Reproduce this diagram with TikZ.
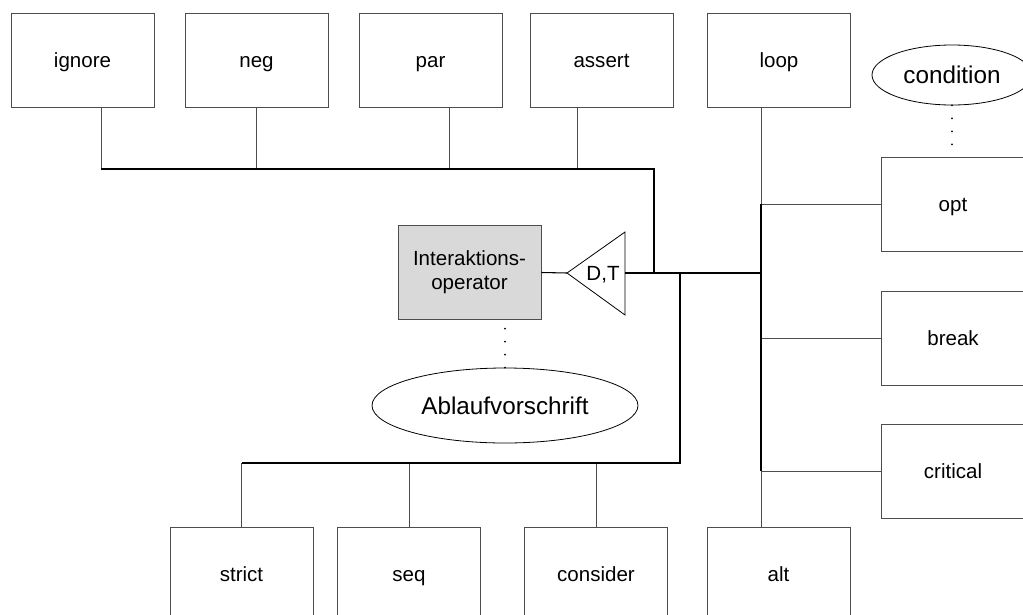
\documentclass[tikz,border=0pt]{standalone}
\usepackage{fontspec}
\setmainfont{Liberation Sans}
\usetikzlibrary{calc,shapes.geometric}
\definecolor{opgray}{HTML}{D9D9D9}
\definecolor{linegray}{HTML}{4D4D4D}

\begin{document}
\begin{tikzpicture}[x=0.75pt, y=-0.75pt,
    frame/.style={draw=linegray, line width=0.6pt, inner sep=0pt,
      minimum width=107.25pt, minimum height=70.5pt,
      font=\fontsize{15.4}{18}\selectfont},
    opbox/.style={frame, text height=12.5pt, text depth=1pt},
    elli/.style={draw=black, ellipse, line width=0.6pt, inner sep=0pt,
      font=\fontsize{18.2}{22}\selectfont},
    link/.style={draw=linegray, line width=0.6pt},
    bus/.style={draw=black, line width=1.1pt},
    dots/.style={draw=black, line width=1.4pt, line cap=round,
      dash pattern=on 0pt off 9.75pt}]
  \useasboundingbox (0,0) rectangle (1023,614);

  % upper row of operators
  \node[opbox] (ignore) at (82.5,60)  {ignore};
  \node[opbox] (neg)    at (256.5,60) {neg};
  \node[opbox] (par)    at (430.5,60) {par};
  \node[opbox] (assert) at (601.5,60) {assert};
  \node[opbox] (loop)   at (779,60)   {loop};

  % right column
  \node[opbox] (opt)      at (953,204) {opt};
  \node[opbox] (break)    at (953,338) {break};
  \node[opbox] (critical) at (953,471) {critical};

  % lower row
  \node[opbox] (strict)   at (241.5,574) {strict};
  \node[opbox] (seq)      at (409,574)   {seq};
  \node[opbox] (consider) at (596,574)   {consider};
  \node[opbox] (alt)      at (778.5,574) {alt};

  % the operator itself, its decomposition triangle and the two ellipses
  \node[frame, fill=opgray, align=center] (op) at (469.5,272.5) {Interaktions-\\operator};
  \coordinate (tip) at (567,273);
  \coordinate (tri) at (625,273);
  \draw[line width=0.6pt] (tip) -- (625,232) -- (625,315) -- cycle;
  \node[font=\fontsize{15.4}{18}\selectfont, inner sep=0pt] (dt) at (603,275) {D,T};
  \node[elli, minimum width=199.5pt, minimum height=56.25pt] (ablauf) at (505,405.5) {Ablaufvorschrift};
  \node[elli, minimum width=120pt, minimum height=45pt] (cond) at (952,75) {condition};

  % junctions
  \coordinate (tbL) at (101,169);
  \coordinate (tbR) at (654,169);
  \coordinate (hub) at (761,273);
  \coordinate (bbR) at (680,463);

  % drops from the upper row
  \foreach \n/\dx in {ignore/18.5, neg/0, par/18.5, assert/-24.5}
    \draw[link] (\n.south) ++(\dx,0) coordinate (drop) -- (drop |- tbL);

  % drops to the lower row
  \foreach \n in {strict, seq, consider}
    \draw[link] (\n.north) -- (\n.north |- bbR);

  % spine between loop and alt
  \draw[link] (loop.south) ++(-18,0) coordinate (sp) -- (sp |- opt.west);
  \draw[link] (sp |- critical.west) -- (sp |- alt.north);
  \foreach \n in {opt, break, critical}
    \draw[link] (sp |- \n.west) -- (\n.west);

  % main busses
  \draw[bus] (tbL) -- (tbR) -- (tbR |- hub);
  \draw[bus] (tri) -- (hub);
  \draw[bus] (bbR |- hub) -- (bbR) -- (strict.north |- bbR);
  \draw[bus] (sp |- opt.west) -- (sp |- critical.west);
  \draw[line width=0.8pt] (op.east) -- (tip);

  % dotted attachments
  \draw[dots] (ablauf.north) -- (ablauf.north |- op.south);
  \draw[dots] (cond.south) -- (cond.south |- opt.north);
\end{tikzpicture}
\end{document}
